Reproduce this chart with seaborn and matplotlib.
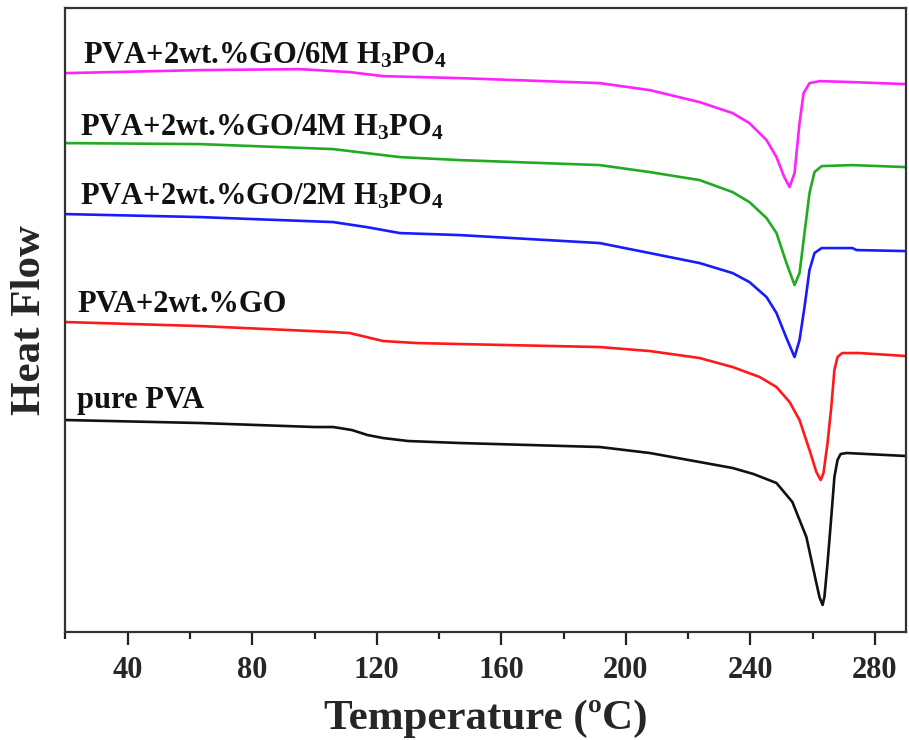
import pandas as pd
import matplotlib.pyplot as plt
import seaborn as sns
from matplotlib.ticker import MultipleLocator

# DSC curves (temperature in °C, heat flow in arbitrary units)
t_pure = [20, 63.2, 100, 106, 112, 117, 122, 130, 146.6, 191.6, 207.7, 223.7, 234.3, 241, 248.4,
          253.5, 258, 261.2, 262.2, 263.2, 263.8, 264.8, 266, 267, 268, 269, 271, 290]
hf_pure = [2.12, 2.09, 2.05, 2.05, 2.02, 1.97, 1.94, 1.91, 1.89, 1.85, 1.79, 1.70, 1.64, 1.58, 1.49,
           1.30, 0.95, 0.49, 0.35, 0.27, 0.35, 0.69, 1.15, 1.55, 1.72, 1.78, 1.79, 1.76]

t_go = [20, 63.2, 106, 111.3, 116.7, 122, 132.8, 146.6, 191.6, 207.7, 223.7, 234.3, 243, 248.4,
        252.6, 255.8, 259, 261.2, 262.6, 263.5, 264.8, 266, 267, 268, 269.5, 275, 290]
hf_go = [3.10, 3.06, 3.00, 2.99, 2.95, 2.91, 2.89, 2.88, 2.85, 2.81, 2.74, 2.65, 2.55, 2.45,
         2.30, 2.12, 1.82, 1.60, 1.52, 1.59, 1.89, 2.25, 2.62, 2.75, 2.79, 2.79, 2.76]

t_2m = [20, 63.2, 106, 116.7, 127.4, 146.6, 191.6, 207.7, 223.7, 234.3, 239.7, 245.2, 248.4,
        251.6, 254.2, 255.8, 257.4, 259, 260.6, 262.9, 272.8, 274.1, 290]
hf_2m = [4.18, 4.15, 4.10, 4.05, 3.99, 3.97, 3.89, 3.79, 3.69, 3.59, 3.50, 3.35, 3.19,
         2.94, 2.75, 2.92, 3.25, 3.62, 3.79, 3.84, 3.84, 3.82, 3.81]

t_4m = [20, 63.2, 106, 116.7, 127.4, 146.6, 191.6, 207.7, 223.7, 234.3, 239.7, 245.2, 248.4,
        251.6, 254.2, 255.8, 257.4, 259, 260.6, 262.9, 272.8, 290]
hf_4m = [4.89, 4.88, 4.83, 4.79, 4.75, 4.72, 4.67, 4.60, 4.52, 4.40, 4.30, 4.14, 3.99,
         3.69, 3.47, 3.59, 3.99, 4.39, 4.60, 4.66, 4.67, 4.65]

t_6m = [20, 63.2, 95.3, 111.3, 122, 146.6, 191.6, 207.7, 223.7, 234.3, 239.7, 245.2, 248.4,
        250.9, 252.6, 254.2, 255.8, 257.1, 259, 262.3, 272.8, 290]
hf_6m = [5.59, 5.62, 5.63, 5.60, 5.56, 5.54, 5.49, 5.42, 5.30, 5.19, 5.09, 4.92, 4.75,
         4.55, 4.45, 4.59, 5.09, 5.39, 5.49, 5.51, 5.50, 5.48]

samples = ['pure PVA', 'PVA+2wt.%GO',
           r'PVA+2wt.%GO/2M $\mathbf{H_3PO_4}$',
           r'PVA+2wt.%GO/4M $\mathbf{H_3PO_4}$',
           r'PVA+2wt.%GO/6M $\mathbf{H_3PO_4}$']
colors = ['#111111', '#ff1a1a', '#1a1aff', '#22aa22', '#ff22ff']
label_pos = [(23.7, 2.24), (23.7, 3.20), (24.7, 4.28), (24.7, 4.97), (25.6, 5.69)]

frames = []
for name, t, hf in zip(samples, [t_pure, t_go, t_2m, t_4m, t_6m],
                       [hf_pure, hf_go, hf_2m, hf_4m, hf_6m]):
    frames.append(pd.DataFrame({'T': t, 'HF': hf, 'sample': name}))
df = pd.concat(frames, ignore_index=True)

sns.set_style('ticks')
plt.rcParams['font.family'] = ['Liberation Serif', 'DejaVu Serif']
plt.rcParams['font.weight'] = 'bold'
plt.rcParams['mathtext.fontset'] = 'custom'
plt.rcParams['mathtext.rm'] = 'Liberation Serif:bold'
plt.rcParams['mathtext.bf'] = 'Liberation Serif:bold'
plt.rcParams['mathtext.it'] = 'Liberation Serif:bold'

fig = plt.figure(figsize=(9.09, 7.40), dpi=100)
ax = fig.add_axes([0.072, 0.146, 0.9247, 0.843])

sns.lineplot(data=df, x='T', y='HF', hue='sample', palette=colors, estimator=None,
             sort=False, linewidth=1.9, legend=False, ax=ax)

for name, (x, y) in zip(samples, label_pos):
    ax.text(x, y, name, fontsize=22, fontweight='bold', color='#111111',
            ha='left', va='baseline')

ax.set_xlim(20, 290)
ax.set_ylim(0, 6.24)
ax.set_yticks([])
ax.xaxis.set_major_locator(MultipleLocator(40))
ax.xaxis.set_minor_locator(MultipleLocator(20))
ax.tick_params(axis='x', which='major', length=9, width=1.6, labelsize=22, pad=8,
               color='#222222')
ax.tick_params(axis='x', which='minor', length=5, width=1.6, color='#222222')
for lab in ax.get_xticklabels():
    lab.set_fontweight('bold')
for s in ax.spines.values():
    s.set_linewidth(1.6)
    s.set_color('#333333')

ax.set_xlabel('Temperature (ºC)', fontsize=31, fontweight='bold', labelpad=11)
ax.set_ylabel('Heat Flow', fontsize=31, fontweight='bold', labelpad=12)

fig.savefig('out.png', dpi=100)
